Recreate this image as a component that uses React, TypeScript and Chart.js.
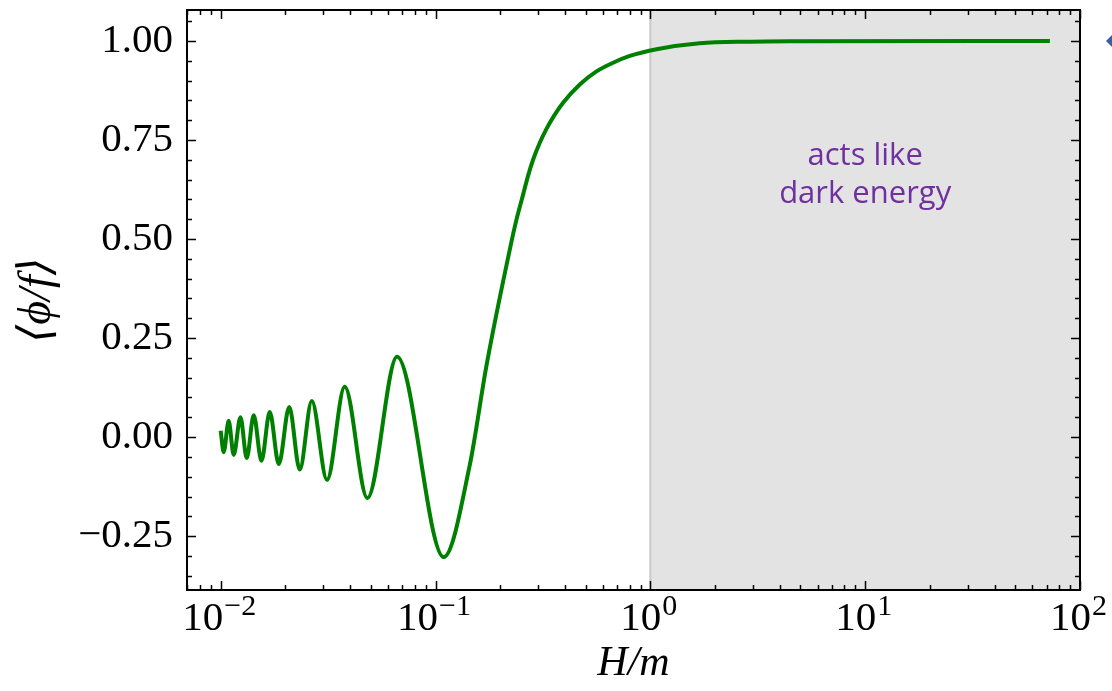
import React, { useEffect, useRef } from "react";
import { Chart, registerables } from "chart.js";

Chart.register(...registerables);

// Field evolution: H/m (log axis) against the averaged field value <phi/f>
const hOverM: number[] = [
  0.0100, 0.01033, 0.01089, 0.01150, 0.01236, 0.01322, 0.01425, 0.01548,
  0.01692, 0.01864, 0.02085, 0.02333, 0.02655, 0.03126, 0.03779, 0.04819,
  0.06622, 0.1092, 0.1442, 0.1726, 0.2218, 0.2377, 0.2557, 0.2698, 0.2845,
  0.3058, 0.3285, 0.3591, 0.3925, 0.4694, 0.5615, 0.6710, 0.8027, 1.069,
  1.695, 2.902, 4.966, 72.4,
];
const phiOverF: number[] = [
  0.016, -0.038, 0.041, -0.045, 0.050, -0.053, 0.055, -0.060,
  0.063, -0.068, 0.076, -0.082, 0.091, -0.108, 0.127, -0.154,
  0.203, -0.303, -0.072, 0.180, 0.474, 0.547, 0.612, 0.660, 0.700,
  0.743, 0.778, 0.814, 0.844, 0.890, 0.923, 0.945, 0.962, 0.979,
  0.994, 0.998, 0.999, 1.000,
];

// Axis ranges and ticks
const xMin = 0.00697;
const xMax = 100;
const yMin = -0.386;
const yMax = 1.078;
const xTickValues: number[] = [0.01, 0.1, 1, 10, 100];
const xTickExponents: string[] = ["\u22122", "\u22121", "0", "1", "2"];
const yTickValues: number[] = [-0.25, 0, 0.25, 0.5, 0.75, 1.0];

// Shaded regime and its caption
const shadeFrom = 1;
const shadeTo = 100;
const captionAt = 10;
const captionLines: string[] = ["acts like", "dark energy"];

const SERIF = "'Liberation Serif', 'DejaVu Serif', serif";

const fmtY = (v: number) => (v < 0 ? "\u2212" + Math.abs(v).toFixed(2) : v.toFixed(2));

const decorPlugin = {
  id: "decor",
  beforeDatasetsDraw(chart: any) {
    const { ctx, chartArea: a, scales } = chart;
    const x = scales.x;
    const x0 = x.getPixelForValue(shadeFrom);
    const x1 = Math.min(x.getPixelForValue(shadeTo), a.right);
    ctx.save();
    ctx.fillStyle = "#e3e3e3";
    ctx.fillRect(x0, a.top, x1 - x0, a.bottom - a.top);
    ctx.strokeStyle = "#c9c9c9";
    ctx.lineWidth = 2;
    ctx.beginPath();
    ctx.moveTo(x0, a.top);
    ctx.lineTo(x0, a.bottom);
    ctx.stroke();

    // caption inside the shaded regime
    ctx.fillStyle = "#7030A0";
    ctx.font = "31px 'Open Sans', 'Noto Sans', sans-serif";
    ctx.textAlign = "center";
    ctx.textBaseline = "alphabetic";
    const cx = x.getPixelForValue(captionAt);
    ctx.fillText(captionLines[0], cx, 165);
    ctx.fillText(captionLines[1], cx, 203);
    ctx.restore();
  },
  afterDatasetsDraw(chart: any) {
    const { ctx, chartArea: a, scales } = chart;
    const x = scales.x;
    const y = scales.y;
    ctx.save();
    ctx.strokeStyle = "#000";
    ctx.lineWidth = 1.5;
    ctx.beginPath();
    // y ticks, inward on both sides
    for (let k = -7; k <= 21; k++) {
      const v = k * 0.05;
      if (v < yMin || v > yMax) continue;
      const py = Math.round(y.getPixelForValue(v)) + 0.5;
      const len = k % 5 === 0 ? 9 : 5;
      ctx.moveTo(a.left, py);
      ctx.lineTo(a.left + len, py);
      ctx.moveTo(a.right, py);
      ctx.lineTo(a.right - len, py);
    }
    // x ticks (log decades with minor ticks), inward top and bottom
    for (let e = -3; e <= 2; e++) {
      for (let m = 1; m <= 9; m++) {
        const v = m * Math.pow(10, e);
        if (v < xMin || v > xMax) continue;
        const px = Math.round(x.getPixelForValue(v)) + 0.5;
        const len = m === 1 ? 9 : 5;
        ctx.moveTo(px, a.bottom);
        ctx.lineTo(px, a.bottom - len);
        ctx.moveTo(px, a.top);
        ctx.lineTo(px, a.top + len);
      }
    }
    ctx.stroke();

    // frame
    ctx.lineWidth = 2;
    ctx.strokeRect(a.left, a.top, a.right - a.left, a.bottom - a.top);

    // x tick labels as 10^n
    ctx.fillStyle = "#000";
    ctx.textAlign = "left";
    ctx.textBaseline = "alphabetic";
    xTickValues.forEach((v, i) => {
      const px = x.getPixelForValue(v);
      ctx.font = `41px ${SERIF}`;
      const w1 = ctx.measureText("10").width;
      ctx.font = `30px ${SERIF}`;
      const w2 = ctx.measureText(xTickExponents[i]).width;
      const start = px - (w1 + w2) / 2 - 2;
      ctx.font = `41px ${SERIF}`;
      ctx.fillText("10", start, 630);
      ctx.font = `30px ${SERIF}`;
      ctx.fillText(xTickExponents[i], start + w1 + 1, 615);
    });

    // arrowhead at the right margin
    const ay = y.getPixelForValue(1.0);
    const ax = a.right + 26;
    ctx.fillStyle = "#3B5DA8";
    ctx.beginPath();
    ctx.moveTo(ax, ay);
    ctx.lineTo(ax + 8, ay - 8);
    ctx.lineTo(ax + 16, ay);
    ctx.lineTo(ax + 8, ay + 8);
    ctx.closePath();
    ctx.fill();
    ctx.restore();
  },
};

export default function App() {
  const canvasRef = useRef<HTMLCanvasElement | null>(null);

  useEffect(() => {
    const canvas = canvasRef.current;
    if (!canvas) return;
    const chart = new Chart(canvas, {
      type: "line",
      data: {
        datasets: [
          {
            data: hOverM.map((h, i) => ({ x: h, y: phiOverF[i] })),
            borderColor: "#008000",
            borderWidth: 4,
            pointRadius: 0,
            fill: false,
            cubicInterpolationMode: "monotone",
          },
        ],
      },
      options: {
        animation: false,
        responsive: false,
        devicePixelRatio: 1,
        layout: { padding: { left: 0, right: 32, top: 10, bottom: 0 } },
        plugins: { legend: { display: false }, tooltip: { enabled: false } },
        scales: {
          x: {
            type: "logarithmic",
            min: xMin,
            max: xMax,
            grid: { display: false, drawTicks: false },
            border: { display: false },
            ticks: { display: false },
            title: {
              display: true,
              text: "H/m",
              color: "#000",
              font: { family: SERIF, size: 42, style: "italic" },
              padding: { top: 0, bottom: 2 },
            },
            afterFit: (s: any) => {
              s.height = 101;
              s.paddingLeft = 0;
              s.paddingRight = 0;
            },
          },
          y: {
            type: "linear",
            min: yMin,
            max: yMax,
            afterBuildTicks: (s: any) => {
              s.ticks = yTickValues.map((v) => ({ value: v }));
            },
            grid: { display: false, drawTicks: false },
            border: { display: false },
            ticks: {
              color: "#000",
              padding: 14,
              font: { family: SERIF, size: 41 },
              callback: (v: any) => fmtY(Number(v)),
            },
            title: {
              display: true,
              text: "\u27E8\u03D5/f\u27E9",
              color: "#000",
              font: { family: SERIF, size: 46, style: "italic" },
              padding: { top: 10, bottom: 0 },
            },
            afterFit: (s: any) => {
              s.width = 187;
              s.paddingTop = 0;
              s.paddingBottom = 0;
            },
          },
        },
      },
      plugins: [decorPlugin],
    } as any);
    return () => chart.destroy();
  }, []);

  return (
    <div style={{ position: "fixed", left: 0, top: 0, width: 1112, height: 691, background: "#fff" }}>
      <canvas ref={canvasRef} width={1112} height={691} />
    </div>
  );
}
